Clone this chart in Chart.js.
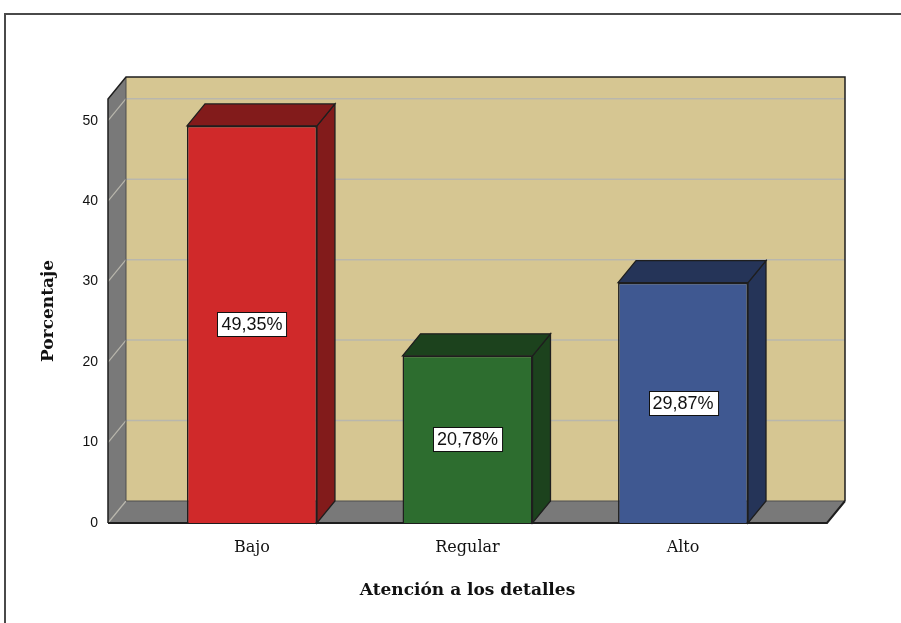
<!DOCTYPE html>
<html>
<head>
<meta charset="utf-8">
<script src="https://cdn.jsdelivr.net/npm/chart.js@4/dist/chart.umd.min.js"></script>
<style>
  html, body { margin: 0; padding: 0; background: #fff; }
  canvas { display: block; }
</style>
</head>
<body>
<canvas id="chart" width="901" height="623"></canvas>
<script>
// Data
const categories = ['Bajo', 'Regular', 'Alto'];
const percentages = [49.35, 20.78, 29.87];
const yTicks = [0, 10, 20, 30, 40, 50];
const xTitle = 'Atención a los detalles';
const yTitle = 'Porcentaje';

// Styling
const frontColors = ['#D0292A', '#2D6D2F', '#3F5891'];
const shadeColors = ['#821B1B', '#1C421D', '#253458'];
const WALL = '#797979';
const BACK = '#D6C692';
const GRID = '#B9B7AD';
const EDGE = '#1E1E1E';
const DEPTH_X = 18, DEPTH_Y = -22;

function poly(ctx, pts, fill, stroke, lw) {
  ctx.beginPath();
  ctx.moveTo(pts[0][0], pts[0][1]);
  for (let i = 1; i < pts.length; i++) ctx.lineTo(pts[i][0], pts[i][1]);
  ctx.closePath();
  if (fill) { ctx.fillStyle = fill; ctx.fill(); }
  if (stroke) { ctx.strokeStyle = stroke; ctx.lineWidth = lw || 1.5; ctx.lineJoin = 'miter'; ctx.stroke(); }
}
function line(ctx, pts, color, lw) {
  ctx.beginPath();
  ctx.moveTo(pts[0][0], pts[0][1]);
  for (let i = 1; i < pts.length; i++) ctx.lineTo(pts[i][0], pts[i][1]);
  ctx.strokeStyle = color; ctx.lineWidth = lw; ctx.stroke();
}
const fmtPct = v => v.toFixed(2).replace('.', ',') + '%';

// 3D box: back wall, side wall, floor, gridlines and the bars' top / side faces
const box3d = {
  id: 'box3d',
  beforeDraw(chart) {
    const ctx = chart.ctx;
    ctx.save();
    ctx.fillStyle = '#fff';
    ctx.fillRect(0, 0, chart.width, chart.height);
    ctx.strokeStyle = '#4a4a4a';
    ctx.lineWidth = 2;
    ctx.strokeRect(5, 14, chart.width + 40, chart.height + 40);
    ctx.restore();
  },
  beforeDatasetsDraw(chart) {
    const { ctx, chartArea: a, scales: { y } } = chart;
    const L = a.left, R = a.right, T = a.top, B = a.bottom;
    const dx = DEPTH_X, dy = DEPTH_Y;
    ctx.save();
    // back wall
    ctx.fillStyle = BACK;
    ctx.fillRect(L + dx, T + dy, R - L, B - T);
    // left wall and floor
    poly(ctx, [[L, T], [L + dx, T + dy], [L + dx, B + dy], [L, B]], WALL);
    poly(ctx, [[L, B], [L + dx, B + dy], [R + dx, B + dy], [R, B]], WALL);
    // gridlines
    yTicks.forEach(v => {
      const py = y.getPixelForValue(v);
      line(ctx, [[L, py], [L + dx, py + dy]], GRID, 1.2);
      if (v > 0) line(ctx, [[L + dx, py + dy], [R + dx, py + dy]], GRID, 1.5);
    });
    // inner edges
    line(ctx, [[L + dx, T + dy], [L + dx, B + dy], [R + dx, B + dy]], '#4e4e4e', 1);
    // outer edges
    line(ctx, [[L, B], [L, T], [L + dx, T + dy], [R + dx, T + dy], [R + dx, B + dy]], EDGE, 1.5);
    line(ctx, [[L, B], [R, B], [R + dx, B + dy]], EDGE, 2);

    // bar top and side faces
    const meta = chart.getDatasetMeta(0);
    meta.data.forEach((bar, i) => {
      const p = bar.getProps(['x', 'y', 'base', 'width'], true);
      const x1 = p.x - p.width / 2, x2 = p.x + p.width / 2;
      const top = p.y, base = p.base;
      poly(ctx, [[x2, top], [x2 + dx, top + dy], [x2 + dx, base + dy], [x2, base]], shadeColors[i], EDGE, 1.3);
      poly(ctx, [[x1, top], [x1 + dx, top + dy], [x2 + dx, top + dy], [x2, top]], shadeColors[i], EDGE, 1.3);
    });
    ctx.restore();
  },
  afterDatasetsDraw(chart) {
    const ctx = chart.ctx;
    const meta = chart.getDatasetMeta(0);
    ctx.save();
    ctx.font = '18px "Liberation Sans", Arial, sans-serif';
    ctx.textAlign = 'center';
    ctx.textBaseline = 'middle';
    meta.data.forEach((bar, i) => {
      const p = bar.getProps(['x', 'y', 'base'], true);
      const mid = (p.y + p.base) / 2;
      const txt = fmtPct(percentages[i]);
      const w = ctx.measureText(txt).width + 8;
      const h = 24;
      const bx = Math.round(p.x - w / 2) + 0.5, by = Math.round(mid - h / 2) + 0.5;
      ctx.fillStyle = '#fff';
      ctx.fillRect(bx, by, w, h);
      ctx.strokeStyle = '#111';
      ctx.lineWidth = 1;
      ctx.strokeRect(bx, by, w, h);
      ctx.fillStyle = '#111';
      ctx.fillText(txt, p.x, mid + 1);
    });
    ctx.restore();
  }
};

new Chart(document.getElementById('chart'), {
  type: 'bar',
  data: {
    datasets: [{
      data: categories.map((c, i) => ({ x: i, y: percentages[i] })),
      backgroundColor: frontColors,
      borderColor: EDGE,
      borderWidth: 1.5,
      categoryPercentage: 1,
      barPercentage: 0.603
    }]
  },
  options: {
    responsive: false,
    animation: false,
    events: [],
    layout: { padding: { left: 0, top: 99, right: 74, bottom: 0 } },
    plugins: { legend: { display: false }, tooltip: { enabled: false } },
    scales: {
      x: {
        type: 'linear',
        offset: false,
        min: -0.668,
        max: 2.668,
        afterBuildTicks: s => { s.ticks = categories.map((c, i) => ({ value: i })); },
        afterFit: s => { s.height = 100; },
        grid: { display: false, drawTicks: false, offset: false },
        border: { display: false },
        ticks: {
          autoSkip: false,
          maxRotation: 0,
          padding: 15,
          color: '#111',
          font: { family: '"DejaVu Serif", serif', size: 16 },
          callback: v => categories[v]
        },
        title: {
          display: true,
          text: xTitle,
          color: '#111',
          font: { family: '"DejaVu Serif", serif', size: 17, weight: 'bold' },
          padding: { top: 0, bottom: 22 }
        }
      },
      y: {
        min: 0,
        max: 52.7,
        afterBuildTicks: s => { s.ticks = yTicks.map(v => ({ value: v })); },
        afterFit: s => { s.width = 108; },
        grid: { display: false, drawTicks: false },
        border: { display: false },
        ticks: {
          padding: 10,
          color: '#111',
          font: { family: '"Liberation Sans", Arial, sans-serif', size: 14 }
        },
        title: {
          display: true,
          text: yTitle,
          color: '#111',
          font: { family: '"DejaVu Serif", serif', size: 17, weight: 'bold' },
          padding: { top: 38, bottom: 0 }
        }
      }
    }
  },
  plugins: [box3d]
});
</script>
</body>
</html>
